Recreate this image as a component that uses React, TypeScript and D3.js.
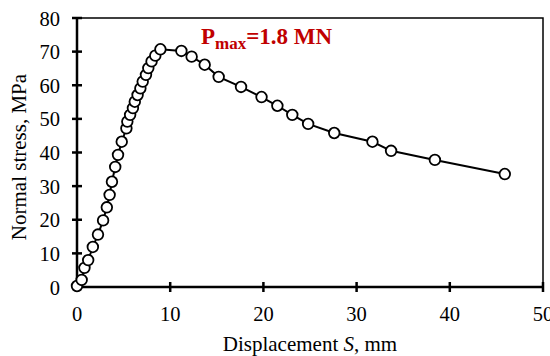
import React from "react";
import * as d3 from "d3";

const displacement = [
  0, 0.5, 0.8, 1.2, 1.7, 2.25, 2.8, 3.2, 3.5, 3.75, 4.1, 4.4, 4.8, 5.3, 5.4, 5.7, 6.0, 6.2, 6.5, 6.8,
  7.05, 7.4, 7.65, 8.0, 8.4, 8.95, 11.2, 12.3, 13.7, 15.2, 17.6, 19.8, 21.5, 23.1, 24.8, 27.6, 31.7,
  33.7, 38.4, 45.9,
];
const stress = [
  0.3, 2.1, 5.7, 8.0, 11.9, 15.6, 19.8, 23.7, 27.4, 31.3, 35.7, 39.3, 43.2, 47.2, 49.2, 51.2, 53.2,
  55.1, 57.1, 59.1, 61.1, 63.1, 65.1, 67.1, 68.8, 70.7, 70.2, 68.5, 66.1, 62.5, 59.5, 56.5, 53.9,
  51.2, 48.5, 45.8, 43.2, 40.5, 37.8, 33.6,
];
const xTicks = [0, 10, 20, 30, 40, 50];
const yTicks = [0, 10, 20, 30, 40, 50, 60, 70, 80];

export default function App() {
  const W = 550, H = 356;
  const left = 77, right = 543, top = 18, bottom = 287;
  const x = d3.scaleLinear().domain([0, 50]).range([left, right]);
  const y = d3.scaleLinear().domain([0, 80]).range([bottom, top]);
  const pts = displacement.map((d, i) => [d, stress[i]] as [number, number]);
  const line = d3.line<[number, number]>().x((d) => x(d[0])).y((d) => y(d[1]));
  const font = "'Liberation Serif', 'Times New Roman', serif";
  return (
    <svg width={W} height={H} style={{ position: "absolute", left: 0, top: 0 }} fontFamily={font}>
      <rect x={0} y={0} width={W} height={H} fill="#fff" />
      <rect x={left} y={top} width={right - left} height={bottom - top} fill="none" stroke="#000" strokeWidth={1.5} />
      <line x1={left} x2={left} y1={top} y2={bottom} stroke="#000" strokeWidth={2.5} />
      <line x1={left} x2={right} y1={bottom} y2={bottom} stroke="#000" strokeWidth={2.5} />
      {xTicks.map((t) => (
        <g key={"x" + t}>
          <line x1={x(t)} x2={x(t)} y1={bottom - 5} y2={bottom + 5} stroke="#000" strokeWidth={2.5} />
          <text x={x(t)} y={bottom + 34} textAnchor="middle" fontSize={20.5}>{t}</text>
        </g>
      ))}
      {yTicks.map((t) => (
        <g key={"y" + t}>
          <line x1={left - 5} x2={left + 5} y1={y(t)} y2={y(t)} stroke="#000" strokeWidth={2.5} />
          <text x={left - 17} y={y(t) + 7.5} textAnchor="end" fontSize={20.5}>{t}</text>
        </g>
      ))}
      <path d={line(pts) || ""} fill="none" stroke="#000" strokeWidth={2} />
      {pts.map((p, i) => (
        <circle key={i} cx={x(p[0])} cy={y(p[1])} r={5.3} fill="#fff" stroke="#000" strokeWidth={1.8} />
      ))}
      <text x={(left + right) / 2} y={351} textAnchor="middle" fontSize={21}>
        Displacement <tspan fontStyle="italic">S</tspan>, mm
      </text>
      <text transform={`translate(26, 157) rotate(-90)`} textAnchor="middle" fontSize={21}>
        Normal stress, MPa
      </text>
      <text x={201} y={43.5} fontSize={23} fontWeight="bold" fill="#c00000">
        P<tspan fontSize={17} dy={5}>max</tspan><tspan dy={-5}>=1.8 MN</tspan>
      </text>
    </svg>
  );
}
